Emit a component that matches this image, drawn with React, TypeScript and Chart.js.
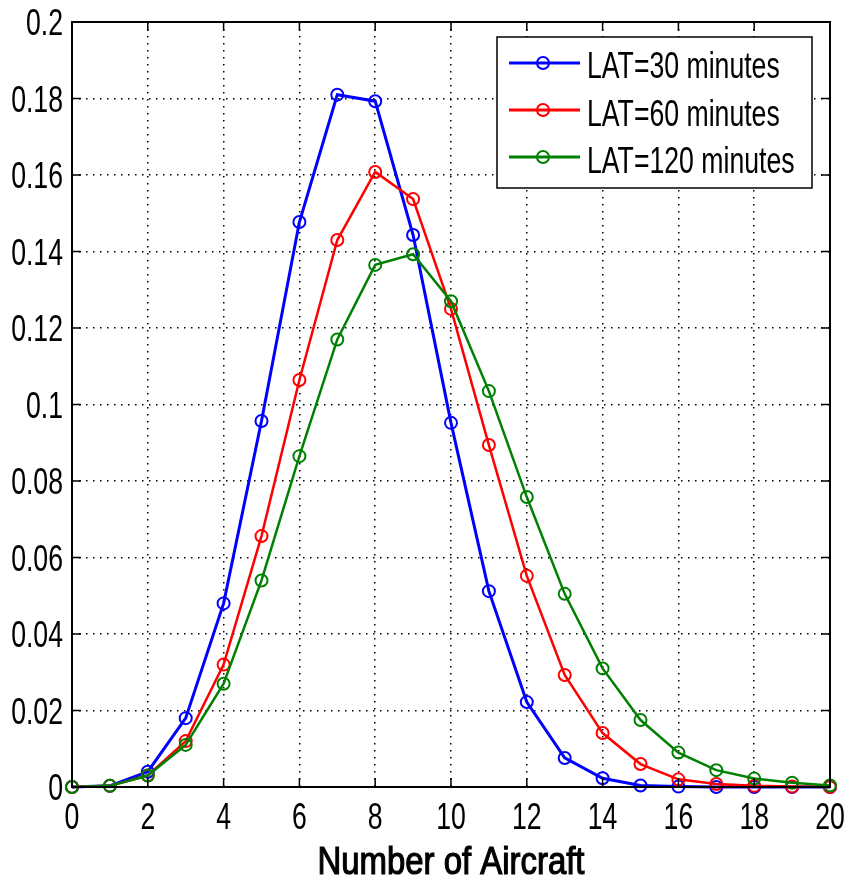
import React, { useEffect, useRef } from "react";
import { Chart, registerables } from "chart.js";

Chart.register(...registerables);

const aircraft = [0, 1, 2, 3, 4, 5, 6, 7, 8, 9, 10, 11, 12, 13, 14, 15, 16, 17, 18, 19, 20];
const lat30 = [0, 0.0003, 0.004, 0.018, 0.048, 0.0957, 0.1477, 0.181, 0.1793, 0.1443, 0.0952, 0.0512, 0.0222, 0.0076, 0.0023, 0.0004, 0.0001, 0, 0, 0, 0];
const lat60 = [0, 0.0003, 0.003, 0.012, 0.032, 0.0656, 0.1064, 0.143, 0.1608, 0.1537, 0.125, 0.0894, 0.0552, 0.0293, 0.0141, 0.006, 0.002, 0.0008, 0.0003, 0.0001, 0];
const lat120 = [0, 0.0003, 0.003, 0.011, 0.027, 0.054, 0.0865, 0.117, 0.1365, 0.1393, 0.127, 0.1035, 0.0758, 0.0505, 0.031, 0.0175, 0.009, 0.0044, 0.0022, 0.0011, 0.0004];
const seriesLabels = ["LAT=30 minutes", "LAT=60 minutes", "LAT=120 minutes"];
const seriesColors = ["#0000FF", "#FF0000", "#008000"];
const xTicks = [0, 2, 4, 6, 8, 10, 12, 14, 16, 18, 20];
const yTicks = [0, 0.02, 0.04, 0.06, 0.08, 0.1, 0.12, 0.14, 0.16, 0.18, 0.2];
const xTitle = "Number of Aircraft";

const FONT = '"Liberation Sans", Arial, Helvetica, sans-serif';
const SQUEEZE = 0.72;

function squeezedText(ctx: any, text: string, x: number, y: number, align: "left" | "center" | "right", sx: number, stroke = 0) {
  const w = ctx.measureText(text).width * sx;
  let x0 = x;
  if (align === "center") x0 = x - w / 2;
  if (align === "right") x0 = x - w;
  ctx.save();
  ctx.translate(x0, y);
  ctx.scale(sx, 1);
  ctx.textAlign = "left";
  ctx.fillText(text, 0, 0);
  if (stroke > 0) {
    ctx.lineWidth = stroke;
    ctx.strokeStyle = ctx.fillStyle;
    ctx.strokeText(text, 0, 0);
  }
  ctx.restore();
}

const framePlugin = {
  id: "matlabFrame",
  afterDraw(chart: any) {
    const { ctx, chartArea } = chart;
    const { left, right, top, bottom } = chartArea;
    const xs = chart.scales.x;
    const ys = chart.scales.y;
    ctx.save();
    ctx.strokeStyle = "#000";
    ctx.lineWidth = 2;
    ctx.strokeRect(left, top, right - left, bottom - top);
    ctx.lineWidth = 1.5;
    const tl = 9;
    ctx.beginPath();
    for (const v of xTicks) {
      const px = xs.getPixelForValue(v);
      ctx.moveTo(px, bottom);
      ctx.lineTo(px, bottom - tl);
      ctx.moveTo(px, top);
      ctx.lineTo(px, top + tl);
    }
    for (const v of yTicks) {
      const py = ys.getPixelForValue(v);
      ctx.moveTo(left, py);
      ctx.lineTo(left + tl, py);
      ctx.moveTo(right, py);
      ctx.lineTo(right - tl, py);
    }
    ctx.stroke();

    // tick labels
    ctx.fillStyle = "#000";
    ctx.textBaseline = "alphabetic";
    ctx.font = "37px " + FONT;
    for (const v of xTicks) {
      squeezedText(ctx, String(v), xs.getPixelForValue(v), bottom + 42, "center", SQUEEZE);
    }
    for (const v of yTicks) {
      const t = String(Number(v.toFixed(2)));
      squeezedText(ctx, t, left - 9, ys.getPixelForValue(v) + 13, "right", SQUEEZE);
    }
    // axis title
    ctx.font = "38px " + FONT;
    const tw = ctx.measureText(xTitle).width;
    squeezedText(ctx, xTitle, (left + right) / 2, bottom + 87, "center", 267 / tw, 1.2);

    // legend
    const bx = 497, by = 37, bw = 315, bh = 151;
    ctx.fillStyle = "#fff";
    ctx.fillRect(bx, by, bw, bh);
    ctx.lineWidth = 1.5;
    ctx.strokeStyle = "#000";
    ctx.strokeRect(bx, by, bw, bh);
    const rows = [63, 110, 157];
    const baselines = [78, 126, 173];
    ctx.font = "37px " + FONT;
    for (let i = 0; i < seriesLabels.length; i++) {
      const y = rows[i];
      ctx.strokeStyle = seriesColors[i];
      ctx.lineWidth = 3;
      ctx.beginPath();
      ctx.moveTo(509, y);
      ctx.lineTo(580, y);
      ctx.stroke();
      ctx.lineWidth = 2;
      ctx.beginPath();
      ctx.arc(543, y, 6, 0, Math.PI * 2);
      ctx.stroke();
      ctx.fillStyle = "#000";
      squeezedText(ctx, seriesLabels[i], 587, baselines[i], "left", SQUEEZE);
    }
    ctx.restore();
  },
};

export default function App() {
  const ref = useRef<HTMLCanvasElement | null>(null);
  useEffect(() => {
    document.body.style.margin = "0";
    const canvas = ref.current;
    if (!canvas) return;
    const series = [lat30, lat60, lat120];
    const chart = new Chart(canvas, {
      type: "line",
      data: {
        datasets: series.map((s, i) => ({
          label: seriesLabels[i],
          data: aircraft.map((x, j) => ({ x, y: s[j] })),
          borderColor: seriesColors[i],
          backgroundColor: "transparent",
          pointBackgroundColor: "transparent",
          pointBorderColor: seriesColors[i],
          pointRadius: 6,
          pointBorderWidth: 2,
          borderWidth: i === 0 ? 3 : 2.5,
          tension: 0,
          fill: false,
          clip: 8,
          order: 3 - i,
        })),
      },
      options: {
        animation: false,
        responsive: false,
        maintainAspectRatio: false,
        layout: { padding: { top: 22, right: 15, left: 0, bottom: 0 } },
        plugins: { legend: { display: false }, tooltip: { enabled: false }, title: { display: false } },
        scales: {
          x: {
            type: "linear",
            min: 0,
            max: 20,
            afterBuildTicks: (scale: any) => {
              scale.ticks = xTicks.map((v) => ({ value: v }));
            },
            afterFit: (scale: any) => {
              scale.height = 96;
            },
            grid: { color: "#000", lineWidth: 1.5, drawTicks: false },
            border: { display: false, dash: [1.5, 5.5] },
            ticks: { display: false },
            title: { display: false, text: xTitle },
          },
          y: {
            type: "linear",
            min: 0,
            max: 0.2,
            afterBuildTicks: (scale: any) => {
              scale.ticks = yTicks.map((v) => ({ value: v }));
            },
            afterFit: (scale: any) => {
              scale.width = 72;
            },
            grid: { color: "#000", lineWidth: 1.5, drawTicks: false },
            border: { display: false, dash: [1.5, 5.5] },
            ticks: { display: false },
          },
        },
      },
      plugins: [framePlugin],
    } as any);
    return () => chart.destroy();
  }, []);
  return (
    <div style={{ width: 845, height: 883, background: "#fff" }}>
      <canvas ref={ref} width={845} height={883} style={{ display: "block", width: 845, height: 883 }} />
    </div>
  );
}
